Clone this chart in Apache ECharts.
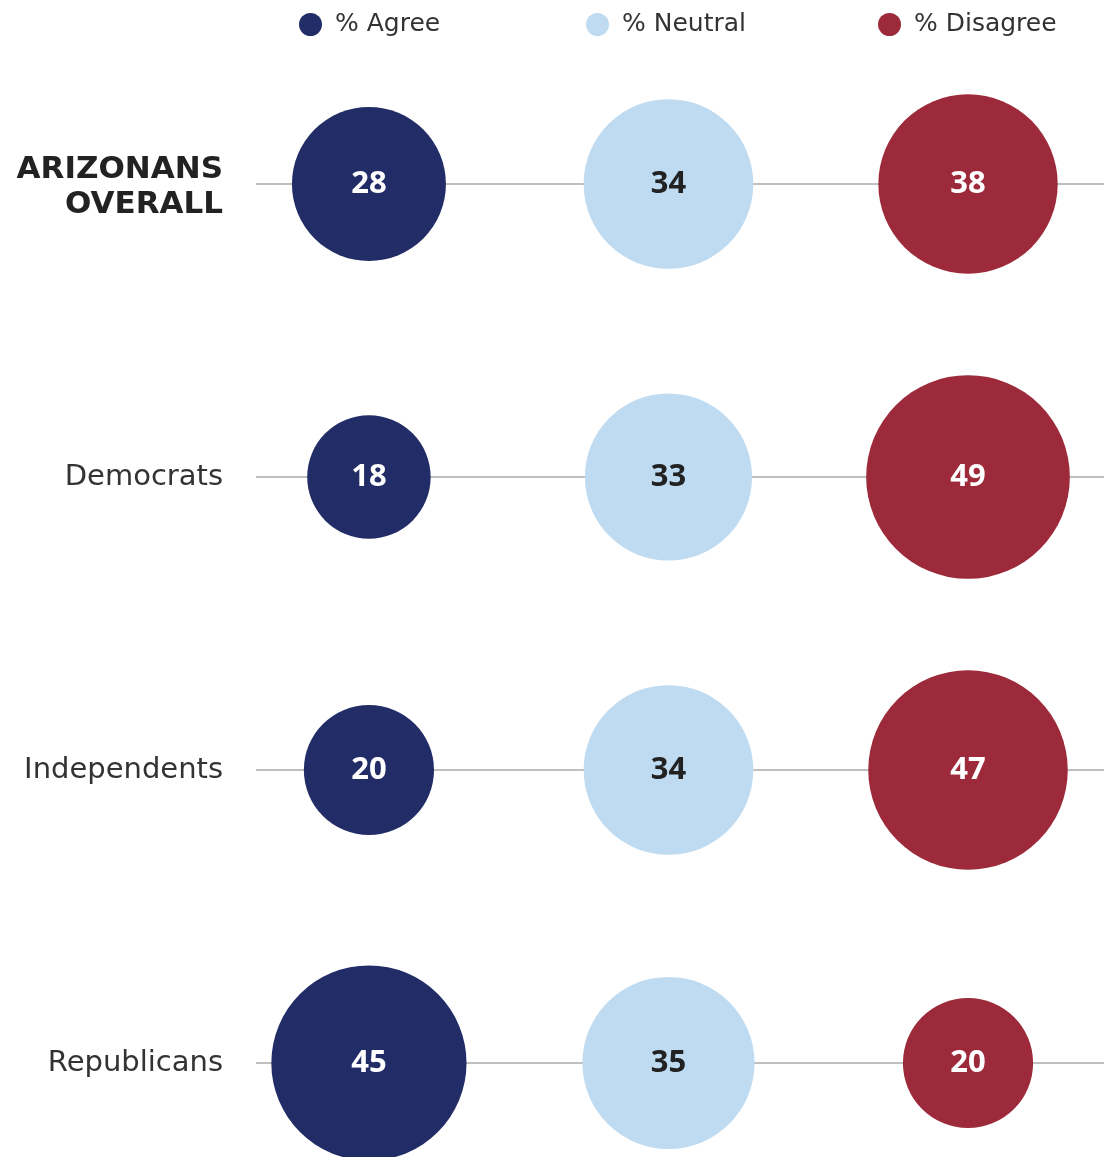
<!DOCTYPE html>
<html>
<head>
<meta charset="utf-8">
<script src="https://cdn.jsdelivr.net/npm/echarts@6/dist/echarts.min.js"></script>
<style>
  html, body { margin: 0; padding: 0; background: #fff; }
  #chart { width: 1112px; height: 1157px; }
</style>
</head>
<body>
<div id="chart"></div>
<script>
var groups = ['ARIZONANS\nOVERALL', 'Democrats', 'Independents', 'Republicans'];
var seriesNames = ['% Agree', '% Neutral', '% Disagree'];
var agree = [28, 18, 20, 45];
var neutral = [34, 33, 34, 35];
var disagree = [38, 49, 47, 20];

var colors = ['#222c66', '#bfdbf1', '#9d2a3b'];
var labelColors = ['#ffffff', '#222222', '#ffffff'];
var allValues = [agree, neutral, disagree];

var myChart = echarts.init(document.getElementById('chart'));

var series = allValues.map(function (vals, col) {
  return {
    name: seriesNames[col],
    type: 'scatter',
    data: vals.map(function (v, row) { return [col, row, v]; }),
    symbolSize: function (d) { return Math.sqrt(d[2]) * 29.1; },
    itemStyle: { color: colors[col], opacity: 1 },
    label: {
      show: true,
      position: 'inside',
      formatter: function (p) { return p.value[2]; },
      color: labelColors[col],
      fontFamily: 'Noto Sans',
      fontWeight: 'bold',
      fontSize: 31
    },
    emphasis: { disabled: true },
    z: 3
  };
});

// one legend per series so each can sit where the original has it
var legendLeft = [294, 581, 873];
var legends = seriesNames.map(function (n, i) {
  return {
    data: [n],
    left: legendLeft[i],
    top: 7,
    icon: 'circle',
    itemWidth: 23,
    itemHeight: 23,
    itemGap: 0,
    textStyle: { fontSize: 25, color: '#333', fontFamily: 'DejaVu Sans', padding: [2, 0, 0, 8] },
    selectedMode: false
  };
});

myChart.setOption({
  animation: false,
  color: colors,
  legend: legends,
  grid: { left: 256, right: 8, top: 184, bottom: 94 },
  xAxis: {
    type: 'value',
    min: -0.377,
    max: 2.454,
    show: false
  },
  yAxis: {
    type: 'value',
    inverse: true,
    min: 0,
    max: 3,
    interval: 1,
    axisLine: { show: false },
    axisTick: { show: false },
    splitLine: { show: true, lineStyle: { color: '#bfbfbf', width: 2 } },
    axisLabel: {
      margin: 33,
      formatter: function (v) {
        var name = groups[v];
        return v === 0 ? '{b|' + name + '}' : '{n|' + name + '}';
      },
      rich: {
        b: { fontSize: 31, fontWeight: 'bold', color: '#222', fontFamily: 'DejaVu Sans', lineHeight: 35, align: 'right', padding: [6, 0, 0, 0] },
        n: { fontSize: 29, color: '#333', fontFamily: 'DejaVu Sans', align: 'right' }
      }
    }
  },
  series: series
});
</script>
</body>
</html>
